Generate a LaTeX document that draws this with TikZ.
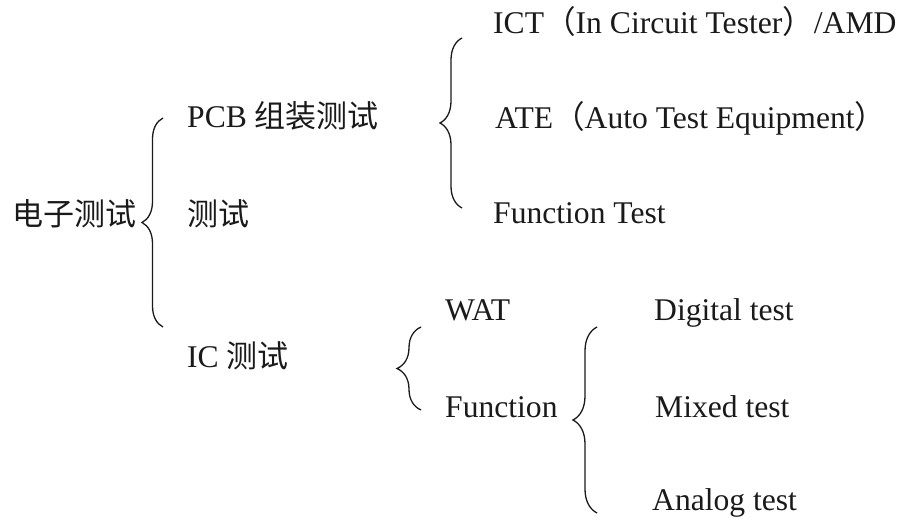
\documentclass[tikz,border=0pt]{standalone}
\usepackage{fontspec}
\usepackage{tikz}
\usetikzlibrary{decorations.pathreplacing}
\setmainfont{Liberation Serif}
\newfontfamily\cjk{Noto Sans CJK SC}
\definecolor{inkc}{HTML}{1A1A1A}

\begin{document}
\begin{tikzpicture}[x=1pt, y=-1pt,
  lbl/.style={anchor=base west, inner sep=0pt, font=\fontsize{31.6}{36}\selectfont, text=inkc},
  brc/.style={decorate, decoration={brace, amplitude=#1}, line width=1.3pt, inkc},
  brc/.default=22]
  \useasboundingbox (0,0) rectangle (903,520);
  % first level
  \node[lbl, font=\fontsize{31}{36}\selectfont] (root) at (12,225) {\cjk 电子测试};
  \node[lbl] (pcb) at (187,127) {PCB {\cjk\fontsize{31}{36}\selectfont 组装测试}};
  \node[lbl, font=\fontsize{31}{36}\selectfont] (mid) at (187,225) {\cjk 测试};
  \node[lbl] (ic) at (187,367) {IC {\cjk\fontsize{31}{36}\selectfont 测试}};
  % PCB branch
  \node[lbl] (ict) at (493,33) {ICT{\cjk （}In Circuit Tester{\cjk ）}/AMD};
  \node[lbl] (ate) at (495,128) {ATE{\cjk （}Auto Test Equipment{\cjk ）}};
  \node[lbl] (ft) at (493,223) {Function Test};
  % IC branch
  \node[lbl] (wat) at (445,320) {WAT};
  \node[lbl] (fn) at (445,417) {Function};
  \node[lbl] (dig) at (654,320) {Digital test};
  \node[lbl] (mix) at (655,417) {Mixed test};
  \node[lbl] (ana) at (652,510) {Analog test};
  % braces
  \coordinate (b1s) at (163,327);
  \coordinate (b1e) at (163,118);
  \coordinate (b2s) at (462,208);
  \coordinate (b2e) at (462,38);
  \coordinate (b3s) at (421,410);
  \coordinate (b3e) at (421,327);
  \coordinate (b4s) at (597,513);
  \coordinate (b4e) at (597,327);
  \draw[brc=21] (b1s) -- (b1e);
  \draw[brc=22] (b2s) -- (b2e);
  \draw[brc=24] (b3s) -- (b3e);
  \draw[brc=24] (b4s) -- (b4e);
\end{tikzpicture}
\end{document}
